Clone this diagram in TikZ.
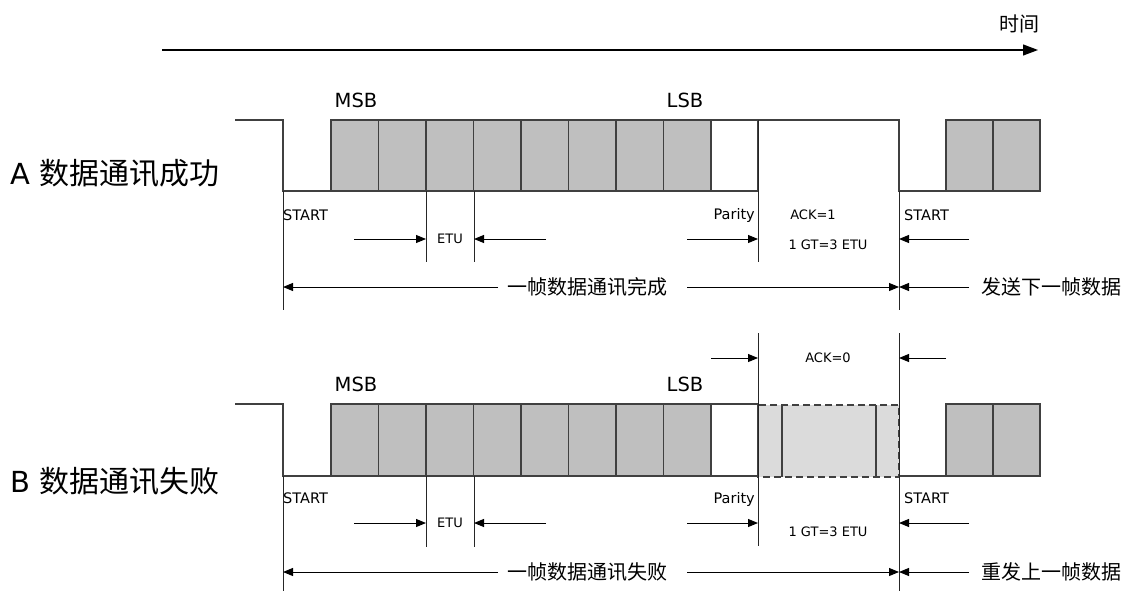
\documentclass[tikz,border=0pt]{standalone}
\usepackage{fontspec}
\setmainfont{DejaVu Sans}
\newfontfamily\cjk{Noto Sans CJK SC}
\usetikzlibrary{arrows.meta}

\begin{document}
\begin{tikzpicture}[
        x=1pt, y=-1pt,
        sig/.style={line width=1.2pt, draw=black!75},
        bit/.style={sig, fill=gray!50},
        guide/.style={line width=1pt, draw=black!85},
        dim/.style={line width=1pt, -{Triangle[length=10pt, width=8pt]}},
        big/.style={font=\fontsize{29}{34}\selectfont, anchor=west, inner sep=0pt},
        cn/.style={font=\cjk\fontsize{20}{24}\selectfont, inner sep=0pt},
        bitlbl/.style={font=\fontsize{19.5}{23}\selectfont, inner sep=0pt},
        lbl/.style={font=\fontsize{14.5}{17}\selectfont, inner sep=0pt},
        small/.style={font=\fontsize{13}{16}\selectfont, inner sep=0pt}
    ]
        \useasboundingbox (0,0) rectangle (1131,591);

        % time axis
        \draw[line width=1.2pt, -{Triangle[length=15pt, width=11pt]}] (162,50) -- (1038,50);
        \node[cn] (time) at (1019,24) {时间};

        % A: frame acknowledged
        \node[big] (a_title) at (10,173) {A {\cjk\fontsize{30}{34}\selectfont 数据通讯成功}};
        \draw[sig] (235,120) -- (283,120) -- (283,191) -- (331,191);
        \foreach \i in {0,...,7}
            \draw[bit] (331+47.5*\i,120) rectangle ++(47.5,71);
        \draw[sig] (711,120) rectangle (758,191);
        \draw[sig] (758,120) -- (899,120) -- (899,191) -- (946,191);
        \foreach \i in {0,1}
            \draw[bit] (946+47*\i,120) rectangle ++(47,71);

        \draw[guide] (283,191) -- (283,310);
        \draw[guide] (426,191) -- (426,262);
        \draw[guide] (474,191) -- (474,262);
        \draw[guide] (758,120) -- (758,262);
        \draw[guide] (899,191) -- (899,310);

        \node[bitlbl] (a_msb) at (356,100) {MSB};
        \node[bitlbl] (a_lsb) at (685,100) {LSB};
        \node[lbl, anchor=west] (a_start) at (283,215) {START};
        \node[lbl, anchor=east] (a_par) at (755,215) {Parity};
        \node[small] (a_ack) at (813,215) {ACK=1};
        \node[small] (a_gt) at (828,245) {1 GT=3 ETU};
        \node[lbl, anchor=west] (a_next) at (904,215) {START};
        \node[small] (a_etu) at (450,239) {ETU};

        \draw[dim] (354,239) -- (426,239);
        \draw[dim] (546,239) -- (474,239);
        \draw[dim] (687,239) -- (758,239);
        \draw[dim] (969,239) -- (899,239);

        \node[cn] (a_frame) at (587,287) {一帧数据通讯完成};
        \draw[dim] (498,287) -- (283,287);
        \draw[dim] (687,287) -- (899,287);
        \node[cn] (a_send) at (1051,287) {发送下一帧数据};
        \draw[dim] (969,287) -- (899,287);

        % B: frame rejected
        \node[big] (b_title) at (10,481) {B {\cjk\fontsize{30}{34}\selectfont 数据通讯失败}};
        \draw[sig] (235,404) -- (283,404) -- (283,476) -- (331,476);
        \foreach \i in {0,...,7}
            \draw[bit] (331+47.5*\i,404) rectangle ++(47.5,72);
        \draw[sig] (711,404) rectangle (758,476);
        \fill[gray!28] (758,405) rectangle (899,477);
        \draw[sig, dash pattern=on 7pt off 4pt] (758,405) rectangle (899,477);
        \draw[sig] (782,405) -- (782,477);
        \draw[sig] (876,405) -- (876,477);
        \draw[sig] (899,476) -- (946,476);
        \foreach \i in {0,1}
            \draw[bit] (946+47*\i,404) rectangle ++(47,72);

        \draw[guide] (283,476) -- (283,591);
        \draw[guide] (426,476) -- (426,547);
        \draw[guide] (474,476) -- (474,547);
        \draw[guide] (758,333) -- (758,546);
        \draw[guide] (899,333) -- (899,591);

        \node[small] (b_ack) at (828,358) {ACK=0};
        \draw[dim] (711,358) -- (758,358);
        \draw[dim] (946,358) -- (899,358);

        \node[bitlbl] (b_msb) at (356,384) {MSB};
        \node[bitlbl] (b_lsb) at (685,384) {LSB};
        \node[lbl, anchor=west] (b_start) at (283,498) {START};
        \node[lbl, anchor=east] (b_par) at (755,499) {Parity};
        \node[small] (b_gt) at (828,532) {1 GT=3 ETU};
        \node[lbl, anchor=west] (b_next) at (904,498) {START};
        \node[small] (b_etu) at (450,523) {ETU};

        \draw[dim] (354,523) -- (426,523);
        \draw[dim] (546,523) -- (474,523);
        \draw[dim] (687,523) -- (758,523);
        \draw[dim] (969,523) -- (899,523);

        \node[cn] (b_frame) at (587,572) {一帧数据通讯失败};
        \draw[dim] (498,572) -- (283,572);
        \draw[dim] (687,572) -- (899,572);
        \node[cn] (b_resend) at (1051,572) {重发上一帧数据};
        \draw[dim] (969,572) -- (899,572);
    \end{tikzpicture}
\end{document}
